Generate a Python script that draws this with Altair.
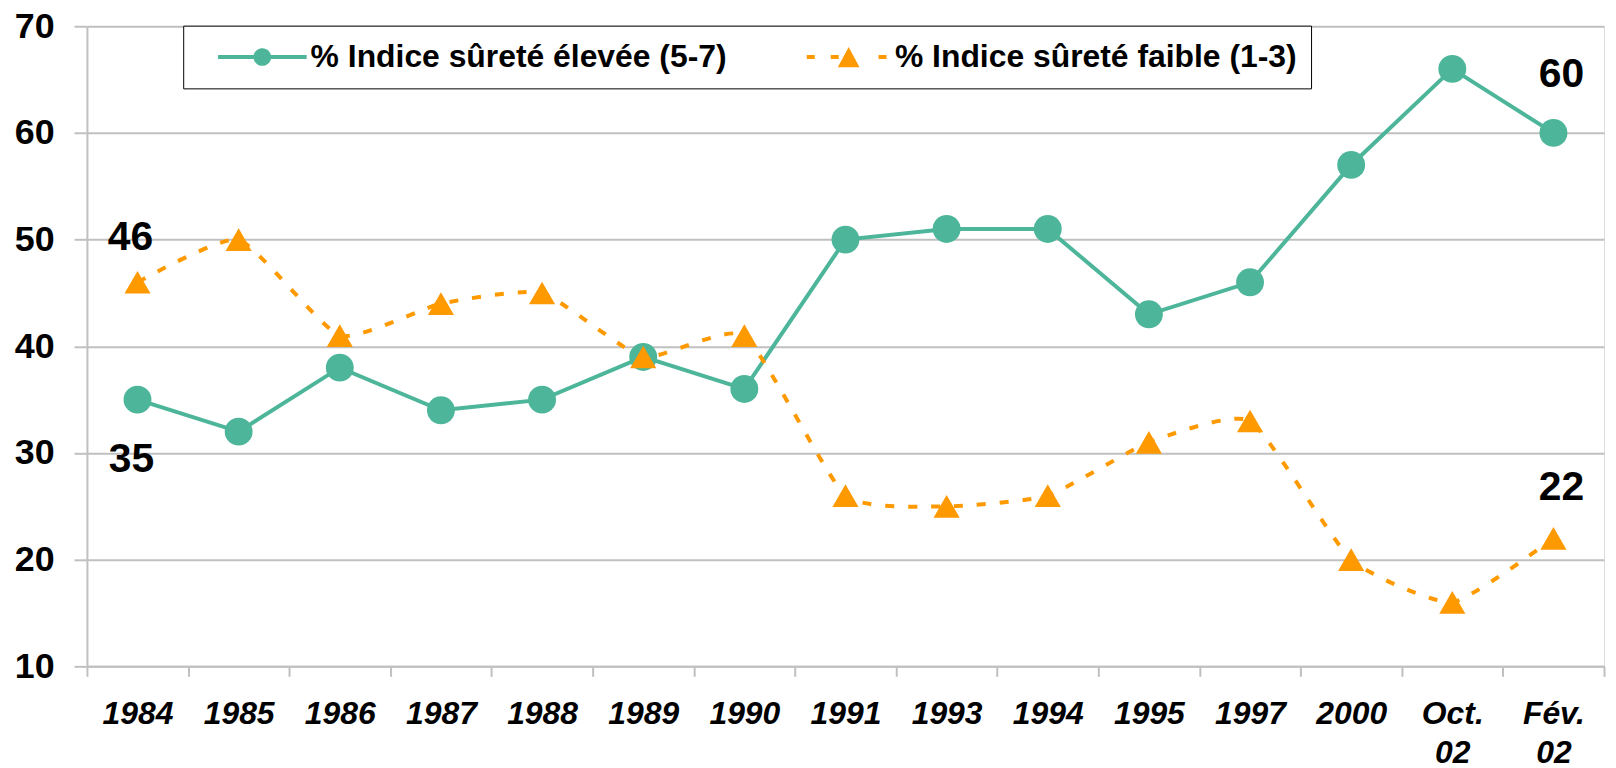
import altair as alt
import pandas as pd

categories = ["1984", "1985", "1986", "1987", "1988", "1989", "1990", "1991",
              "1993", "1994", "1995", "1997", "2000", "Oct. 02", "Fév. 02"]
high_values = [35, 32, 38, 34, 35, 39, 36, 50, 51, 51, 43, 46, 57, 66, 60]
low_values = [46, 50, 41, 44, 45, 39, 41, 26, 25, 26, 31, 33, 20, 16, 22]
series_names = ["% Indice sûreté élevée (5-7)", "% Indice sûreté faible (1-3)"]
series_colors = ["#4DB69A", "#FF9900"]
y_ticks = [10, 20, 30, 40, 50, 60, 70]

GRID = "#C0C0C0"
FONT = "Liberation Sans"

df_high = pd.DataFrame({"cat": categories, "value": high_values, "series": series_names[0]})
df_low = pd.DataFrame({"cat": categories, "value": low_values, "series": series_names[1]})
df_all = pd.concat([df_high, df_low], ignore_index=True)

x_enc = alt.X(
    "cat:N", sort=categories,
    scale=alt.Scale(type="band", paddingInner=0, paddingOuter=0),
    axis=alt.Axis(
        title=None, labelAngle=0, tickBand="extent", tickSize=10, tickColor=GRID,
        tickWidth=2, domainColor=GRID, domainWidth=2, grid=False,
        labelFont=FONT, labelFontSize=32, labelFontWeight="bold", labelFontStyle="italic",
        labelColor="black", labelPadding=22, labelLineHeight=40,
        labelExpr="split(datum.label, ' ')",
    ),
)
y_enc = alt.Y(
    "value:Q",
    scale=alt.Scale(domain=[10, 70], nice=False, zero=False),
    axis=alt.Axis(
        title=None, values=y_ticks, tickSize=13, tickColor=GRID, tickWidth=2,
        domainColor=GRID, domainWidth=2, grid=True, gridColor=GRID, gridWidth=2,
        labelFont=FONT, labelFontSize=36, labelFontWeight="bold", labelColor="black",
        labelPadding=20,
    ),
)

P_LINE = ("M-1,-0.045L-0.19,-0.045L-0.19,0.045L-1,0.045Z "
          "M0.19,-0.045L1,-0.045L1,0.045L0.19,0.045Z "
          "M-0.2,0A0.2,0.2 0 1,1 0.2,0A0.2,0.2 0 1,1 -0.2,0Z")
P_DASH = ("M-0.9,-0.045L-0.72,-0.045L-0.72,0.045L-0.9,0.045Z "
          "M-0.36,-0.045L-0.18,-0.045L-0.18,0.045L-0.36,0.045Z "
          "M0.72,-0.045L0.9,-0.045L0.9,0.045L0.72,0.045Z "
          "M0.045,-0.225L0.29,0.23L-0.2,0.23Z")

legend = alt.Legend(
    title=None, orient="none", legendX=96.7, legendY=-0.6, direction="horizontal",
    strokeColor="black", fillColor="white", padding=14, clipHeight=35,
    columnPadding=55, symbolOffset=21, labelOffset=4, symbolSize=7921,
    symbolStrokeWidth=0, symbolOpacity=1, labelFont=FONT, labelFontSize=32,
    labelFontWeight="bold", labelColor="black", labelLimit=1000, labelBaseline="middle",
)

line_high = alt.Chart(df_high).mark_line(color=series_colors[0], strokeWidth=4).encode(x=x_enc, y=y_enc)
line_low = alt.Chart(df_low).mark_line(
    color=series_colors[1], strokeWidth=4, strokeDash=[9, 14], interpolate="cardinal", tension=0.5
).encode(x=x_enc, y=y_enc)

pts_high = alt.Chart(df_high).mark_point(
    filled=True, opacity=1, shape="circle", size=784, color=series_colors[0]
).encode(x=x_enc, y=y_enc)
pts_low = alt.Chart(df_low).mark_point(
    filled=True, opacity=1, shape="triangle-up", size=690, color=series_colors[1]
).encode(x=x_enc, y=y_enc)

legend_layer = alt.Chart(df_all).mark_point(filled=True, opacity=0).encode(
    x=x_enc, y=y_enc,
    color=alt.Color("series:N", scale=alt.Scale(domain=series_names, range=series_colors), legend=legend),
    shape=alt.Shape("series:N", scale=alt.Scale(domain=series_names, range=[P_LINE, P_DASH]), legend=legend),
)


def label(cat, series, dx, dy):
    return alt.Chart(df_all).transform_filter(
        (alt.datum.cat == cat) & (alt.datum.series == series)
    ).mark_text(
        font=FONT, fontSize=41, fontWeight="bold", color="black",
        dx=dx, dy=dy, baseline="middle", align="center",
    ).encode(x=x_enc, y=y_enc, text="value:Q")


labels = [
    label("1984", series_names[1], -7, -44),
    label("1984", series_names[0], -6, 61),
    label("Fév. 02", series_names[0], 8, -58),
    label("Fév. 02", series_names[1], 8, -50),
]

chart = alt.layer(line_high, line_low, pts_high, pts_low, legend_layer, *labels).properties(
    width=1524, height=643,
    autosize=alt.AutoSizeParams(type="none"),
    padding={"left": 79.3, "top": 16.6, "right": 4, "bottom": 102},
).configure_view(stroke=GRID, strokeWidth=2).configure_legend(strokeWidth=2).configure(background="white")

chart.save("out.html", embed_options={"renderer": "svg", "actions": False})
